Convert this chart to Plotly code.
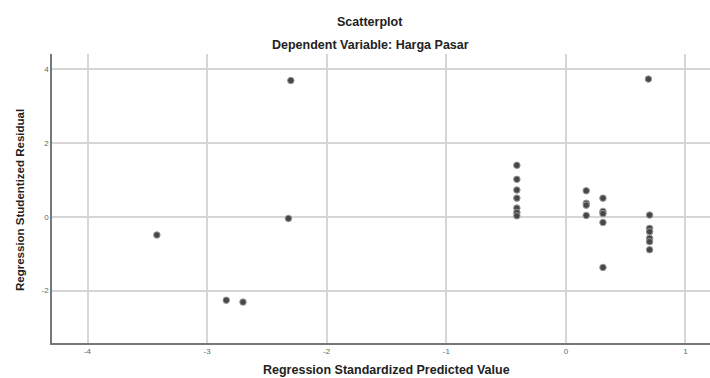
import plotly.graph_objects as go

predicted = [-3.42, -2.84, -2.70, -2.30, -2.32,
             -0.41, -0.41, -0.41, -0.41, -0.41, -0.41, -0.41,
             0.17, 0.17, 0.17, 0.17,
             0.31, 0.31, 0.31, 0.31, 0.31,
             0.70, 0.70, 0.70, 0.70, 0.70, 0.70, 0.69]
residual = [-0.49, -2.26, -2.31, 3.70, -0.04,
            1.40, 1.02, 0.73, 0.51, 0.24, 0.12, 0.03,
            0.71, 0.37, 0.32, 0.04,
            0.51, 0.15, 0.09, -0.15, -1.37,
            0.05, -0.31, -0.40, -0.58, -0.67, -0.89, 3.74]

x_ticks = [-4, -3, -2, -1, 0, 1]
y_ticks = [4, 2, 0, -2]

W, H = 710, 378
ML, MR, MT, MB = 52, 0, 54, 35
pw, ph = W - ML - MR, H - MT - MB


def px(x):
    return (x - ML) / pw


def py(y):
    return 1 - (y - MT) / ph


fig = go.Figure()
fig.add_trace(go.Scatter(
    x=predicted, y=residual, mode="markers",
    marker=dict(size=6.5, color="#474747", line=dict(color="#9a9a9a", width=1)),
    showlegend=False, hoverinfo="skip"))

title_font = dict(size=12.5, color="#222")
fig.update_layout(
    width=W, height=H,
    margin=dict(l=ML, r=MR, t=MT, b=MB),
    paper_bgcolor="white", plot_bgcolor="white",
    font=dict(family="Liberation Sans, Arial, sans-serif", color="#222"),
    xaxis=dict(range=[-4.297, 1.205], tickvals=x_ticks, ticktext=[str(v) for v in x_ticks],
               showgrid=True, gridcolor="#d6d6d6", gridwidth=1.5, zeroline=False,
               showline=True, linecolor="#777", linewidth=1.5,
               ticks="", tickfont=dict(size=8, color="#666")),
    yaxis=dict(range=[-3.42, 4.42], tickvals=y_ticks, ticktext=[str(v) for v in y_ticks],
               showgrid=True, gridcolor="#d6d6d6", gridwidth=1.5, zeroline=False,
               showline=True, linecolor="#777", linewidth=1.5,
               ticks="", tickfont=dict(size=8, color="#666")),
    annotations=[
        dict(text="<b>Scatterplot</b>", x=px(370), y=py(22), xref="paper", yref="paper",
             showarrow=False, font=title_font,
             xanchor="center", yanchor="middle"),
        dict(text="<b>Dependent Variable: Harga Pasar</b>", x=px(370), y=py(45),
             xref="paper", yref="paper", showarrow=False, font=title_font,
             xanchor="center", yanchor="middle"),
        dict(text="<b>Regression Standardized Predicted Value</b>", x=px(386), y=py(370),
             xref="paper", yref="paper", showarrow=False, font=title_font,
             xanchor="center", yanchor="middle"),
        dict(text="<b>Regression Studentized Residual</b>", x=px(20), y=py(200),
             xref="paper", yref="paper", showarrow=False, textangle=-90,
             font=dict(size=11.5, color="#222"), xanchor="center", yanchor="middle"),
    ],
)

fig.write_html("out.html", config={"displayModeBar": False},
               post_script="document.body.style.margin='0px';document.body.style.overflow='hidden';")
